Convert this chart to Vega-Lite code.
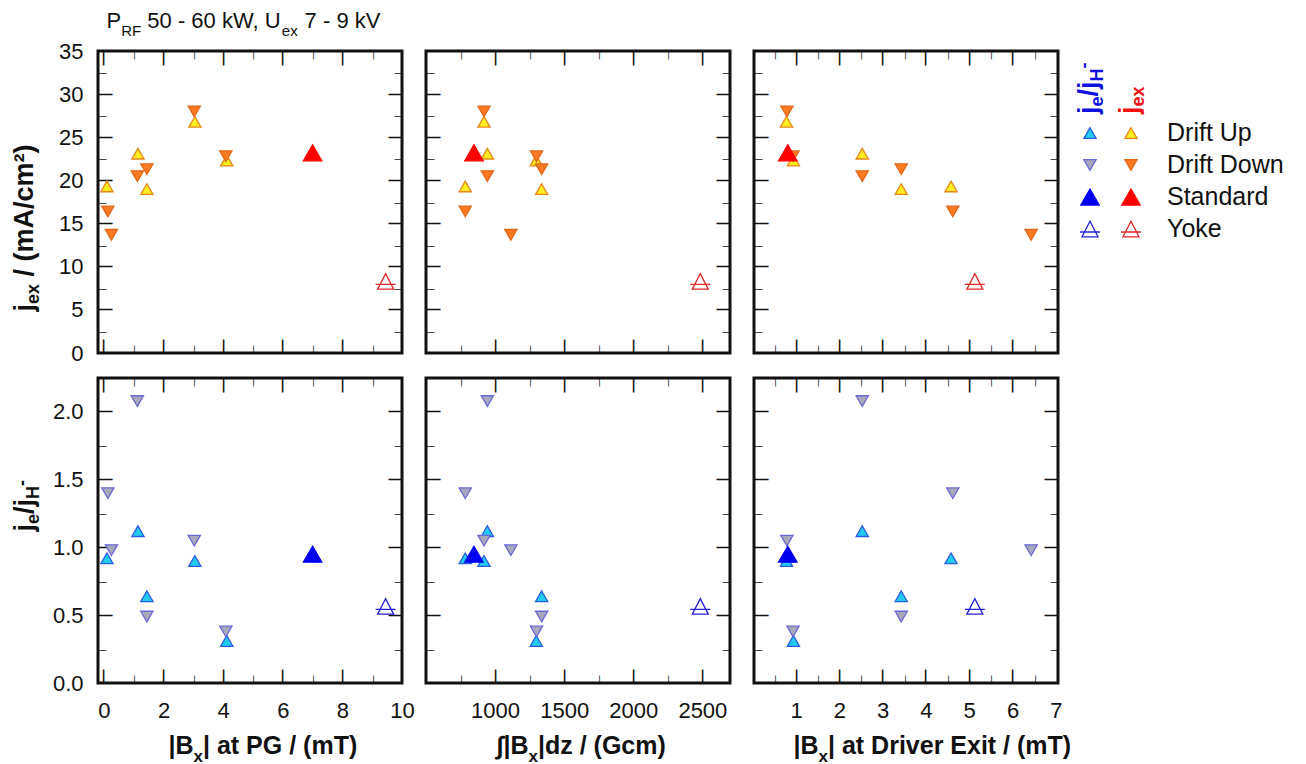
{
  "$schema": "https://vega.github.io/schema/vega-lite/v6.json",
  "padding": {"left": 8, "top": 8, "right": 0, "bottom": 0},
  "config": {
    "font": "Liberation Sans",
    "view": {"stroke": "#111111", "strokeWidth": 3},
    "axis": {
      "domain": false, "ticks": false, "grid": false, "zindex": 1,
      "labelColor": "#111111", "labelFontSize": 22, "labelFlush": false, "labelOverlap": false, "labelBound": false,
      "titleColor": "#111111", "titleFontSize": 25, "titleFontWeight": "bold"
    }
  },
  "data": {"values": [
    {"type": "Drift Up", "pg": 0.10, "gcm": 784, "exit": 4.58, "jex": 19.3, "ratio": 0.92},
    {"type": "Drift Up", "pg": 1.14, "gcm": 944, "exit": 2.53, "jex": 23.1, "ratio": 1.12},
    {"type": "Drift Up", "pg": 1.44, "gcm": 1337, "exit": 3.43, "jex": 19.0, "ratio": 0.64},
    {"type": "Drift Up", "pg": 3.05, "gcm": 920, "exit": 0.78, "jex": 26.8, "ratio": 0.90},
    {"type": "Drift Up", "pg": 4.12, "gcm": 1298, "exit": 0.94, "jex": 22.3, "ratio": 0.31},
    {"type": "Drift Down", "pg": 0.13, "gcm": 784, "exit": 4.62, "jex": 16.4, "ratio": 1.40},
    {"type": "Drift Down", "pg": 0.25, "gcm": 1114, "exit": 6.43, "jex": 13.7, "ratio": 0.98},
    {"type": "Drift Down", "pg": 1.12, "gcm": 944, "exit": 2.53, "jex": 20.5, "ratio": 2.08},
    {"type": "Drift Down", "pg": 1.44, "gcm": 1337, "exit": 3.43, "jex": 21.3, "ratio": 0.49},
    {"type": "Drift Down", "pg": 3.03, "gcm": 920, "exit": 0.79, "jex": 28.0, "ratio": 1.05},
    {"type": "Drift Down", "pg": 4.09, "gcm": 1300, "exit": 0.93, "jex": 22.8, "ratio": 0.38},
    {"type": "Standard", "pg": 7.0, "gcm": 847, "exit": 0.81, "jex": 23.2, "ratio": 0.95},
    {"type": "Yoke", "pg": 9.45, "gcm": 2485, "exit": 5.13, "jex": 8.3, "ratio": 0.565}
  ]},
  "columns": 4,
  "bounds": "flush",
  "spacing": {"row": 25, "column": 24},
  "resolve": {"scale": {"fill": "independent", "stroke": "independent", "shape": "independent", "size": "independent"}},
  "concat": [
    {
      "width": 304, "height": 302,
      "resolve": {"axis": {"x": "independent", "y": "independent"}},
      "layer": [
        {
          "mark": {"type": "point", "filled": true, "opacity": 1, "strokeWidth": 1.3},
          "encoding": {
            "x": {"field": "pg", "type": "quantitative", "scale": {"domain": [-0.2, 10], "nice": false, "zero": false},
                  "axis": {"orient": "bottom", "values": [0, 2, 4, 6, 8], "labelExpr": "'—'", "labelFontWeight": "bold", "labelFontSize": 14, "labelAngle": 270, "labelAlign": "left", "labelBaseline": "middle", "labelPadding": 0,
                           "title": "50 - 60 kW, U", "titleAngle": 0, "titleFontSize": 22, "titleFontWeight": "normal", "titleAlign": "left", "titleBaseline": "alphabetic", "titleX": 48.8, "titleY": -325.3}},
            "y": {"field": "jex", "type": "quantitative", "scale": {"domain": [0, 35], "nice": false, "zero": false},
                  "axis": {"orient": "left", "values": [5, 10, 15, 20, 25, 30], "labelExpr": "'—'", "labelFontWeight": "bold", "labelFontSize": 14, "labelAlign": "left", "labelBaseline": "middle", "labelPadding": 0, "title": null}},
            "shape": {"field": "type", "type": "nominal", "legend": null, "scale": {"domain": ["Drift Up", "Drift Down", "Standard", "Yoke"], "range": ["triangle-up", "triangle-down", "triangle-up", "M0,-0.78L0.8,0.78L-0.8,0.78Z M-1,0.3L1,0.3"]}},
            "fill": {"field": "type", "type": "nominal", "legend": null, "scale": {"domain": ["Drift Up", "Drift Down", "Standard", "Yoke"], "range": ["#FFEE22", "#FF7A22", "#FF0000", "transparent"]}},
            "stroke": {"field": "type", "type": "nominal", "legend": null, "scale": {"domain": ["Drift Up", "Drift Down", "Standard", "Yoke"], "range": ["#E8861A", "#E0661A", "#FF0000", "#E02828"]}},
            "size": {"field": "type", "type": "nominal", "legend": null, "scale": {"type": "ordinal", "domain": ["Drift Up", "Drift Down", "Standard", "Yoke"], "range": [150, 150, 340, 400]}}
          }
        },
        {
          "mark": {"type": "point", "opacity": 0},
          "encoding": {
            "x": {"field": "pg", "type": "quantitative", "scale": {"domain": [-0.2, 10], "nice": false, "zero": false},
                  "axis": {"orient": "bottom", "values": [1, 3, 5, 7, 9], "labelExpr": "'—'", "labelFontWeight": "bold", "labelFontSize": 8, "labelAngle": 270, "labelAlign": "left", "labelBaseline": "middle", "labelPadding": 0,
                           "title": "7 - 9 kV", "titleAngle": 0, "titleFontSize": 22, "titleFontWeight": "normal", "titleAlign": "left", "titleBaseline": "alphabetic", "titleX": 206.1, "titleY": -325.3}},
            "y": {"field": "jex", "type": "quantitative", "scale": {"domain": [0, 35], "nice": false, "zero": false},
                  "axis": {"orient": "left", "values": [2.5, 7.5, 12.5, 17.5, 22.5, 27.5, 32.5], "labelExpr": "'—'", "labelFontWeight": "bold", "labelFontSize": 8, "labelAlign": "left", "labelBaseline": "middle", "labelPadding": 0,
                           "title": "ex", "titleAngle": 270, "titleFontSize": 18, "titleAlign": "left", "titleBaseline": "alphabetic", "titleX": -60, "titleY": 252.5}}
          }
        },
        {
          "mark": {"type": "point", "opacity": 0},
          "encoding": {
            "x": {"field": "pg", "type": "quantitative", "scale": {"domain": [-0.2, 10], "nice": false, "zero": false},
                  "axis": {"orient": "top", "values": [0, 2, 4, 6, 8], "labelExpr": "'—'", "labelFontWeight": "bold", "labelFontSize": 14, "labelAngle": 270, "labelAlign": "right", "labelBaseline": "middle", "labelPadding": 0,
                           "title": "P", "titleAngle": 0, "titleFontSize": 22, "titleFontWeight": "normal", "titleAlign": "left", "titleBaseline": "alphabetic", "titleX": 8, "titleY": -23.3}},
            "y": {"field": "jex", "type": "quantitative", "scale": {"domain": [0, 35], "nice": false, "zero": false},
                  "axis": {"orient": "right", "values": [5, 10, 15, 20, 25, 30], "labelExpr": "'—'", "labelFontWeight": "bold", "labelFontSize": 14, "labelAlign": "right", "labelBaseline": "middle", "labelPadding": 0,
                           "title": "/ (mA/cm²)", "titleAngle": 270, "titleFontSize": 27, "titleAlign": "left", "titleBaseline": "alphabetic", "titleX": -370, "titleY": 225}}
          }
        },
        {
          "mark": {"type": "point", "opacity": 0},
          "encoding": {
            "x": {"field": "pg", "type": "quantitative", "scale": {"domain": [-0.2, 10], "nice": false, "zero": false},
                  "axis": {"orient": "top", "values": [1, 3, 5, 7, 9], "labelExpr": "'—'", "labelFontWeight": "bold", "labelFontSize": 8, "labelAngle": 270, "labelAlign": "right", "labelBaseline": "middle", "labelPadding": 0,
                           "title": "RF", "titleAngle": 0, "titleFontSize": 15, "titleFontWeight": "normal", "titleAlign": "left", "titleBaseline": "alphabetic", "titleX": 22.7, "titleY": -16}},
            "y": {"field": "jex", "type": "quantitative", "scale": {"domain": [0, 35], "nice": false, "zero": false},
                  "axis": {"orient": "right", "values": [2.5, 7.5, 12.5, 17.5, 22.5, 27.5, 32.5], "labelExpr": "'—'", "labelFontWeight": "bold", "labelFontSize": 8, "labelAlign": "right", "labelBaseline": "middle", "labelPadding": 0,
                           "title": "ex", "titleAngle": 0, "titleFontSize": 15, "titleFontWeight": "normal", "titleAlign": "left", "titleBaseline": "alphabetic", "titleX": -120.7, "titleY": -16}}
          }
        },
        {
          "mark": {"type": "point", "opacity": 0},
          "encoding": {
            "y": {"field": "jex", "type": "quantitative", "scale": {"domain": [0, 35], "nice": false, "zero": false},
                  "axis": {"orient": "left", "values": [0, 5, 10, 15, 20, 25, 30, 35], "labelPadding": 15, "format": "d",
                           "title": "j", "titleAngle": 270, "titleFontSize": 27, "titleAlign": "right", "titleBaseline": "alphabetic", "titleX": -66, "titleY": 252.5}}
          }
        }
      ]
    },
    {
      "width": 304, "height": 302,
      "resolve": {"axis": {"x": "independent", "y": "independent"}},
      "layer": [
        {
          "mark": {"type": "point", "filled": true, "opacity": 1, "strokeWidth": 1.3},
          "encoding": {
            "x": {"field": "gcm", "type": "quantitative", "scale": {"domain": [500, 2700], "nice": false, "zero": false},
                  "axis": {"orient": "bottom", "values": [1000, 1500, 2000, 2500], "labelExpr": "'—'", "labelFontWeight": "bold", "labelFontSize": 14, "labelAngle": 270, "labelAlign": "left", "labelBaseline": "middle", "labelPadding": 0, "title": null}},
            "y": {"field": "jex", "type": "quantitative", "scale": {"domain": [0, 35], "nice": false, "zero": false},
                  "axis": {"orient": "left", "values": [5, 10, 15, 20, 25, 30], "labelExpr": "'—'", "labelFontWeight": "bold", "labelFontSize": 14, "labelAlign": "left", "labelBaseline": "middle", "labelPadding": 0, "title": null}},
            "shape": {"field": "type", "type": "nominal", "legend": null, "scale": {"domain": ["Drift Up", "Drift Down", "Standard", "Yoke"], "range": ["triangle-up", "triangle-down", "triangle-up", "M0,-0.78L0.8,0.78L-0.8,0.78Z M-1,0.3L1,0.3"]}},
            "fill": {"field": "type", "type": "nominal", "legend": null, "scale": {"domain": ["Drift Up", "Drift Down", "Standard", "Yoke"], "range": ["#FFEE22", "#FF7A22", "#FF0000", "transparent"]}},
            "stroke": {"field": "type", "type": "nominal", "legend": null, "scale": {"domain": ["Drift Up", "Drift Down", "Standard", "Yoke"], "range": ["#E8861A", "#E0661A", "#FF0000", "#E02828"]}},
            "size": {"field": "type", "type": "nominal", "legend": null, "scale": {"type": "ordinal", "domain": ["Drift Up", "Drift Down", "Standard", "Yoke"], "range": [150, 150, 340, 400]}}
          }
        },
        {
          "mark": {"type": "point", "opacity": 0},
          "encoding": {
            "x": {"field": "gcm", "type": "quantitative", "scale": {"domain": [500, 2700], "nice": false, "zero": false},
                  "axis": {"orient": "bottom", "values": [750, 1250, 1750, 2250], "labelExpr": "'—'", "labelFontWeight": "bold", "labelFontSize": 8, "labelAngle": 270, "labelAlign": "left", "labelBaseline": "middle", "labelPadding": 0, "title": null}},
            "y": {"field": "jex", "type": "quantitative", "scale": {"domain": [0, 35], "nice": false, "zero": false},
                  "axis": {"orient": "left", "values": [2.5, 7.5, 12.5, 17.5, 22.5, 27.5, 32.5], "labelExpr": "'—'", "labelFontWeight": "bold", "labelFontSize": 8, "labelAlign": "left", "labelBaseline": "middle", "labelPadding": 0, "title": null}}
          }
        },
        {
          "mark": {"type": "point", "opacity": 0},
          "encoding": {
            "x": {"field": "gcm", "type": "quantitative", "scale": {"domain": [500, 2700], "nice": false, "zero": false},
                  "axis": {"orient": "top", "values": [1000, 1500, 2000, 2500], "labelExpr": "'—'", "labelFontWeight": "bold", "labelFontSize": 14, "labelAngle": 270, "labelAlign": "right", "labelBaseline": "middle", "labelPadding": 0, "title": null}},
            "y": {"field": "jex", "type": "quantitative", "scale": {"domain": [0, 35], "nice": false, "zero": false},
                  "axis": {"orient": "right", "values": [5, 10, 15, 20, 25, 30], "labelExpr": "'—'", "labelFontWeight": "bold", "labelFontSize": 14, "labelAlign": "right", "labelBaseline": "middle", "labelPadding": 0, "title": null}}
          }
        },
        {
          "mark": {"type": "point", "opacity": 0},
          "encoding": {
            "x": {"field": "gcm", "type": "quantitative", "scale": {"domain": [500, 2700], "nice": false, "zero": false},
                  "axis": {"orient": "top", "values": [750, 1250, 1750, 2250], "labelExpr": "'—'", "labelFontWeight": "bold", "labelFontSize": 8, "labelAngle": 270, "labelAlign": "right", "labelBaseline": "middle", "labelPadding": 0, "title": null}},
            "y": {"field": "jex", "type": "quantitative", "scale": {"domain": [0, 35], "nice": false, "zero": false},
                  "axis": {"orient": "right", "values": [2.5, 7.5, 12.5, 17.5, 22.5, 27.5, 32.5], "labelExpr": "'—'", "labelFontWeight": "bold", "labelFontSize": 8, "labelAlign": "right", "labelBaseline": "middle", "labelPadding": 0, "title": null}}
          }
        }
      ]
    },
    {
      "width": 304, "height": 302,
      "resolve": {"axis": {"x": "independent", "y": "independent"}},
      "layer": [
        {
          "mark": {"type": "point", "filled": true, "opacity": 1, "strokeWidth": 1.3},
          "encoding": {
            "x": {"field": "exit", "type": "quantitative", "scale": {"domain": [0.03, 7.05], "nice": false, "zero": false},
                  "axis": {"orient": "bottom", "values": [1, 2, 3, 4, 5, 6], "labelExpr": "'—'", "labelFontWeight": "bold", "labelFontSize": 14, "labelAngle": 270, "labelAlign": "left", "labelBaseline": "middle", "labelPadding": 0, "title": null}},
            "y": {"field": "jex", "type": "quantitative", "scale": {"domain": [0, 35], "nice": false, "zero": false},
                  "axis": {"orient": "left", "values": [5, 10, 15, 20, 25, 30], "labelExpr": "'—'", "labelFontWeight": "bold", "labelFontSize": 14, "labelAlign": "left", "labelBaseline": "middle", "labelPadding": 0, "title": null}},
            "shape": {"field": "type", "type": "nominal", "legend": null, "scale": {"domain": ["Drift Up", "Drift Down", "Standard", "Yoke"], "range": ["triangle-up", "triangle-down", "triangle-up", "M0,-0.78L0.8,0.78L-0.8,0.78Z M-1,0.3L1,0.3"]}},
            "fill": {"field": "type", "type": "nominal", "legend": null, "scale": {"domain": ["Drift Up", "Drift Down", "Standard", "Yoke"], "range": ["#FFEE22", "#FF7A22", "#FF0000", "transparent"]}},
            "stroke": {"field": "type", "type": "nominal", "legend": null, "scale": {"domain": ["Drift Up", "Drift Down", "Standard", "Yoke"], "range": ["#E8861A", "#E0661A", "#FF0000", "#E02828"]}},
            "size": {"field": "type", "type": "nominal", "legend": null, "scale": {"type": "ordinal", "domain": ["Drift Up", "Drift Down", "Standard", "Yoke"], "range": [150, 150, 340, 400]}}
          }
        },
        {
          "mark": {"type": "point", "opacity": 0},
          "encoding": {
            "x": {"field": "exit", "type": "quantitative", "scale": {"domain": [0.03, 7.05], "nice": false, "zero": false},
                  "axis": {"orient": "bottom", "values": [0.5, 1.5, 2.5, 3.5, 4.5, 5.5, 6.5], "labelExpr": "'—'", "labelFontWeight": "bold", "labelFontSize": 8, "labelAngle": 270, "labelAlign": "left", "labelBaseline": "middle", "labelPadding": 0, "title": null}},
            "y": {"field": "jex", "type": "quantitative", "scale": {"domain": [0, 35], "nice": false, "zero": false},
                  "axis": {"orient": "left", "values": [2.5, 7.5, 12.5, 17.5, 22.5, 27.5, 32.5], "labelExpr": "'—'", "labelFontWeight": "bold", "labelFontSize": 8, "labelAlign": "left", "labelBaseline": "middle", "labelPadding": 0, "title": null}}
          }
        },
        {
          "mark": {"type": "point", "opacity": 0},
          "encoding": {
            "x": {"field": "exit", "type": "quantitative", "scale": {"domain": [0.03, 7.05], "nice": false, "zero": false},
                  "axis": {"orient": "top", "values": [1, 2, 3, 4, 5, 6], "labelExpr": "'—'", "labelFontWeight": "bold", "labelFontSize": 14, "labelAngle": 270, "labelAlign": "right", "labelBaseline": "middle", "labelPadding": 0, "title": null}},
            "y": {"field": "jex", "type": "quantitative", "scale": {"domain": [0, 35], "nice": false, "zero": false},
                  "axis": {"orient": "right", "values": [5, 10, 15, 20, 25, 30], "labelExpr": "'—'", "labelFontWeight": "bold", "labelFontSize": 14, "labelAlign": "right", "labelBaseline": "middle", "labelPadding": 0, "title": null}}
          }
        },
        {
          "mark": {"type": "point", "opacity": 0},
          "encoding": {
            "x": {"field": "exit", "type": "quantitative", "scale": {"domain": [0.03, 7.05], "nice": false, "zero": false},
                  "axis": {"orient": "top", "values": [0.5, 1.5, 2.5, 3.5, 4.5, 5.5, 6.5], "labelExpr": "'—'", "labelFontWeight": "bold", "labelFontSize": 8, "labelAngle": 270, "labelAlign": "right", "labelBaseline": "middle", "labelPadding": 0, "title": null}},
            "y": {"field": "jex", "type": "quantitative", "scale": {"domain": [0, 35], "nice": false, "zero": false},
                  "axis": {"orient": "right", "values": [2.5, 7.5, 12.5, 17.5, 22.5, 27.5, 32.5], "labelExpr": "'—'", "labelFontWeight": "bold", "labelFontSize": 8, "labelAlign": "right", "labelBaseline": "middle", "labelPadding": 0, "title": null}}
          }
        }
      ]
    },
    {
      "width": 57, "height": 302,
      "view": {"stroke": null},
      "data": {"values": [{"type": "Drift Up"}, {"type": "Drift Down"}, {"type": "Standard"}, {"type": "Yoke"}]},
      "resolve": {"scale": {"fill": "independent", "stroke": "independent", "shape": "independent", "size": "independent"}},
      "layer": [
        {
          "mark": {"type": "point", "filled": true, "opacity": 1, "strokeWidth": 1.3},
          "encoding": {
            "x": {"datum": "ratio", "type": "nominal", "scale": {"domain": ["ratio", "jex"], "range": [8, 49], "padding": 0}, "axis": null},
            "y": {"field": "type", "type": "nominal", "scale": {"domain": ["Drift Up", "Drift Down", "Standard", "Yoke"], "range": [82, 178], "padding": 0}, "axis": null},
            "shape": {"field": "type", "type": "nominal", "legend": null, "scale": {"domain": ["Drift Up", "Drift Down", "Standard", "Yoke"], "range": ["triangle-up", "triangle-down", "triangle-up", "M0,-0.78L0.8,0.78L-0.8,0.78Z M-1,0.3L1,0.3"]}},
            "fill": {"field": "type", "type": "nominal", "legend": null, "scale": {"domain": ["Drift Up", "Drift Down", "Standard", "Yoke"], "range": ["#22CCF0", "#A8A8BA", "#0000F0", "transparent"]}},
            "stroke": {"field": "type", "type": "nominal", "legend": null, "scale": {"domain": ["Drift Up", "Drift Down", "Standard", "Yoke"], "range": ["#2A5CE0", "#6868D8", "#0000F0", "#2222D8"]}},
            "size": {"field": "type", "type": "nominal", "legend": null, "scale": {"type": "ordinal", "domain": ["Drift Up", "Drift Down", "Standard", "Yoke"], "range": [150, 150, 340, 400]}}
          }
        },
        {
          "mark": {"type": "point", "filled": true, "opacity": 1, "strokeWidth": 1.3},
          "encoding": {
            "x": {"datum": "jex", "type": "nominal"},
            "y": {"field": "type", "type": "nominal"},
            "shape": {"field": "type", "type": "nominal", "legend": null, "scale": {"domain": ["Drift Up", "Drift Down", "Standard", "Yoke"], "range": ["triangle-up", "triangle-down", "triangle-up", "M0,-0.78L0.8,0.78L-0.8,0.78Z M-1,0.3L1,0.3"]}},
            "fill": {"field": "type", "type": "nominal", "legend": null, "scale": {"domain": ["Drift Up", "Drift Down", "Standard", "Yoke"], "range": ["#FFEE22", "#FF7A22", "#FF0000", "transparent"]}},
            "stroke": {"field": "type", "type": "nominal", "legend": null, "scale": {"domain": ["Drift Up", "Drift Down", "Standard", "Yoke"], "range": ["#E8861A", "#E0661A", "#FF0000", "#E02828"]}},
            "size": {"field": "type", "type": "nominal", "legend": null, "scale": {"type": "ordinal", "domain": ["Drift Up", "Drift Down", "Standard", "Yoke"], "range": [150, 150, 340, 400]}}
          }
        },
        {
          "mark": {"type": "text", "align": "left", "baseline": "middle", "dx": 36, "fontSize": 25, "fill": "#111111"},
          "encoding": {
            "x": {"datum": "jex", "type": "nominal"},
            "y": {"field": "type", "type": "nominal"},
            "text": {"field": "type"}
          }
        },
        {
          "data": {"values": [{"k": 1}]},
          "mark": {"type": "text", "text": "j", "angle": 270, "align": "left", "baseline": "alphabetic", "fontSize": 27, "fontWeight": "bold", "fill": "#1010E0", "dx": 19, "dy": 7},
          "encoding": {"x": {"datum": "ratio", "type": "nominal"}, "y": {"datum": "Drift Up", "type": "nominal"}}
        },
        {
          "data": {"values": [{"k": 1}]},
          "mark": {"type": "text", "text": "e", "angle": 270, "align": "left", "baseline": "alphabetic", "fontSize": 18, "fontWeight": "bold", "fill": "#1010E0", "dx": 26.5, "dy": 13},
          "encoding": {"x": {"datum": "ratio", "type": "nominal"}, "y": {"datum": "Drift Up", "type": "nominal"}}
        },
        {
          "data": {"values": [{"k": 1}]},
          "mark": {"type": "text", "text": "/j", "angle": 270, "align": "left", "baseline": "alphabetic", "fontSize": 27, "fontWeight": "bold", "fill": "#1010E0", "dx": 36.5, "dy": 7},
          "encoding": {"x": {"datum": "ratio", "type": "nominal"}, "y": {"datum": "Drift Up", "type": "nominal"}}
        },
        {
          "data": {"values": [{"k": 1}]},
          "mark": {"type": "text", "text": "H", "angle": 270, "align": "left", "baseline": "alphabetic", "fontSize": 18, "fontWeight": "bold", "fill": "#1010E0", "dx": 51.5, "dy": 13},
          "encoding": {"x": {"datum": "ratio", "type": "nominal"}, "y": {"datum": "Drift Up", "type": "nominal"}}
        },
        {
          "data": {"values": [{"k": 1}]},
          "mark": {"type": "text", "text": "-", "angle": 270, "align": "left", "baseline": "alphabetic", "fontSize": 18, "fontWeight": "bold", "fill": "#1010E0", "dx": 64.5, "dy": 0},
          "encoding": {"x": {"datum": "ratio", "type": "nominal"}, "y": {"datum": "Drift Up", "type": "nominal"}}
        },
        {
          "data": {"values": [{"k": 1}]},
          "mark": {"type": "text", "text": "j", "angle": 270, "align": "left", "baseline": "alphabetic", "fontSize": 27, "fontWeight": "bold", "fill": "#F01010", "dx": 19, "dy": 7},
          "encoding": {"x": {"datum": "jex", "type": "nominal"}, "y": {"datum": "Drift Up", "type": "nominal"}}
        },
        {
          "data": {"values": [{"k": 1}]},
          "mark": {"type": "text", "text": "ex", "angle": 270, "align": "left", "baseline": "alphabetic", "fontSize": 18, "fontWeight": "bold", "fill": "#F01010", "dx": 26.5, "dy": 13},
          "encoding": {"x": {"datum": "jex", "type": "nominal"}, "y": {"datum": "Drift Up", "type": "nominal"}}
        }
      ]
    },
    {
      "width": 304, "height": 305,
      "resolve": {"axis": {"x": "independent", "y": "independent"}},
      "layer": [
        {
          "mark": {"type": "point", "filled": true, "opacity": 1, "strokeWidth": 1.3},
          "encoding": {
            "x": {"field": "pg", "type": "quantitative", "scale": {"domain": [-0.2, 10], "nice": false, "zero": false},
                  "axis": {"orient": "bottom", "values": [0, 2, 4, 6, 8], "labelExpr": "'—'", "labelFontWeight": "bold", "labelFontSize": 14, "labelAngle": 270, "labelAlign": "left", "labelBaseline": "middle", "labelPadding": 0, "title": null}},
            "y": {"field": "ratio", "type": "quantitative", "scale": {"domain": [0, 2.25], "nice": false, "zero": false},
                  "axis": {"orient": "left", "values": [0.5, 1, 1.5, 2], "labelExpr": "'—'", "labelFontWeight": "bold", "labelFontSize": 14, "labelAlign": "left", "labelBaseline": "middle", "labelPadding": 0, "title": null}},
            "shape": {"field": "type", "type": "nominal", "legend": null, "scale": {"domain": ["Drift Up", "Drift Down", "Standard", "Yoke"], "range": ["triangle-up", "triangle-down", "triangle-up", "M0,-0.78L0.8,0.78L-0.8,0.78Z M-1,0.3L1,0.3"]}},
            "fill": {"field": "type", "type": "nominal", "legend": null, "scale": {"domain": ["Drift Up", "Drift Down", "Standard", "Yoke"], "range": ["#22CCF0", "#A8A8BA", "#0000F0", "transparent"]}},
            "stroke": {"field": "type", "type": "nominal", "legend": null, "scale": {"domain": ["Drift Up", "Drift Down", "Standard", "Yoke"], "range": ["#2A5CE0", "#6868D8", "#0000F0", "#2222D8"]}},
            "size": {"field": "type", "type": "nominal", "legend": null, "scale": {"type": "ordinal", "domain": ["Drift Up", "Drift Down", "Standard", "Yoke"], "range": [150, 150, 340, 400]}}
          }
        },
        {
          "mark": {"type": "point", "opacity": 0},
          "encoding": {
            "x": {"field": "pg", "type": "quantitative", "scale": {"domain": [-0.2, 10], "nice": false, "zero": false},
                  "axis": {"orient": "bottom", "values": [1, 3, 5, 7, 9], "labelExpr": "'—'", "labelFontWeight": "bold", "labelFontSize": 8, "labelAngle": 270, "labelAlign": "left", "labelBaseline": "middle", "labelPadding": 0,
                           "title": "x", "titleAngle": 0, "titleFontSize": 17, "titleAlign": "left", "titleBaseline": "alphabetic", "titleX": 95, "titleY": 78}},
            "y": {"field": "ratio", "type": "quantitative", "scale": {"domain": [0, 2.25], "nice": false, "zero": false},
                  "axis": {"orient": "left", "values": [0.25, 0.75, 1.25, 1.75], "labelExpr": "'—'", "labelFontWeight": "bold", "labelFontSize": 8, "labelAlign": "left", "labelBaseline": "middle", "labelPadding": 0,
                           "title": "e", "titleAngle": 270, "titleFontSize": 18, "titleAlign": "left", "titleBaseline": "alphabetic", "titleX": -60, "titleY": 145.5}}
          }
        },
        {
          "mark": {"type": "point", "opacity": 0},
          "encoding": {
            "x": {"field": "pg", "type": "quantitative", "scale": {"domain": [-0.2, 10], "nice": false, "zero": false},
                  "axis": {"orient": "top", "values": [0, 2, 4, 6, 8], "labelExpr": "'—'", "labelFontWeight": "bold", "labelFontSize": 14, "labelAngle": 270, "labelAlign": "right", "labelBaseline": "middle", "labelPadding": 0,
                           "title": "| at PG / (mT)", "titleAngle": 0, "titleAlign": "left", "titleBaseline": "alphabetic", "titleX": 104.5, "titleY": 375}},
            "y": {"field": "ratio", "type": "quantitative", "scale": {"domain": [0, 2.25], "nice": false, "zero": false},
                  "axis": {"orient": "right", "values": [0.5, 1, 1.5, 2], "labelExpr": "'—'", "labelFontWeight": "bold", "labelFontSize": 14, "labelAlign": "right", "labelBaseline": "middle", "labelPadding": 0,
                           "title": "/j", "titleAngle": 270, "titleFontSize": 27, "titleAlign": "left", "titleBaseline": "alphabetic", "titleX": -370, "titleY": 135.5}}
          }
        },
        {
          "mark": {"type": "point", "opacity": 0},
          "encoding": {
            "x": {"field": "pg", "type": "quantitative", "scale": {"domain": [-0.2, 10], "nice": false, "zero": false},
                  "axis": {"orient": "top", "values": [1, 3, 5, 7, 9], "labelExpr": "'—'", "labelFontWeight": "bold", "labelFontSize": 8, "labelAngle": 270, "labelAlign": "right", "labelBaseline": "middle", "labelPadding": 0,
                           "title": "-", "titleAngle": 270, "titleFontSize": 18, "titleAlign": "left", "titleBaseline": "alphabetic", "titleX": -71, "titleY": 107.5}},
            "y": {"field": "ratio", "type": "quantitative", "scale": {"domain": [0, 2.25], "nice": false, "zero": false},
                  "axis": {"orient": "right", "values": [0.25, 0.75, 1.25, 1.75], "labelExpr": "'—'", "labelFontWeight": "bold", "labelFontSize": 8, "labelAlign": "right", "labelBaseline": "middle", "labelPadding": 0,
                           "title": "H", "titleAngle": 270, "titleFontSize": 18, "titleAlign": "left", "titleBaseline": "alphabetic", "titleX": -364, "titleY": 120.5}}
          }
        },
        {
          "mark": {"type": "point", "opacity": 0},
          "encoding": {
            "x": {"field": "pg", "type": "quantitative", "scale": {"domain": [-0.2, 10], "nice": false, "zero": false},
                  "axis": {"orient": "bottom", "values": [0, 2, 4, 6, 8, 10], "labelPadding": 17, "format": "d",
                           "title": "|B", "titleAngle": 0, "titleAlign": "right", "titleBaseline": "alphabetic", "titleX": 95, "titleY": 70}},
            "y": {"field": "ratio", "type": "quantitative", "scale": {"domain": [0, 2.25], "nice": false, "zero": false},
                  "axis": {"orient": "left", "values": [0, 0.5, 1, 1.5, 2], "labelPadding": 15, "format": ".1f",
                           "title": "j", "titleAngle": 270, "titleFontSize": 27, "titleAlign": "right", "titleBaseline": "alphabetic", "titleX": -66, "titleY": 145.5}}
          }
        }
      ]
    },
    {
      "width": 304, "height": 305,
      "resolve": {"axis": {"x": "independent", "y": "independent"}},
      "layer": [
        {
          "mark": {"type": "point", "filled": true, "opacity": 1, "strokeWidth": 1.3},
          "encoding": {
            "x": {"field": "gcm", "type": "quantitative", "scale": {"domain": [500, 2700], "nice": false, "zero": false},
                  "axis": {"orient": "bottom", "values": [1000, 1500, 2000, 2500], "labelExpr": "'—'", "labelFontWeight": "bold", "labelFontSize": 14, "labelAngle": 270, "labelAlign": "left", "labelBaseline": "middle", "labelPadding": 0, "title": null}},
            "y": {"field": "ratio", "type": "quantitative", "scale": {"domain": [0, 2.25], "nice": false, "zero": false},
                  "axis": {"orient": "left", "values": [0.5, 1, 1.5, 2], "labelExpr": "'—'", "labelFontWeight": "bold", "labelFontSize": 14, "labelAlign": "left", "labelBaseline": "middle", "labelPadding": 0, "title": null}},
            "shape": {"field": "type", "type": "nominal", "legend": null, "scale": {"domain": ["Drift Up", "Drift Down", "Standard", "Yoke"], "range": ["triangle-up", "triangle-down", "triangle-up", "M0,-0.78L0.8,0.78L-0.8,0.78Z M-1,0.3L1,0.3"]}},
            "fill": {"field": "type", "type": "nominal", "legend": null, "scale": {"domain": ["Drift Up", "Drift Down", "Standard", "Yoke"], "range": ["#22CCF0", "#A8A8BA", "#0000F0", "transparent"]}},
            "stroke": {"field": "type", "type": "nominal", "legend": null, "scale": {"domain": ["Drift Up", "Drift Down", "Standard", "Yoke"], "range": ["#2A5CE0", "#6868D8", "#0000F0", "#2222D8"]}},
            "size": {"field": "type", "type": "nominal", "legend": null, "scale": {"type": "ordinal", "domain": ["Drift Up", "Drift Down", "Standard", "Yoke"], "range": [150, 150, 340, 400]}}
          }
        },
        {
          "mark": {"type": "point", "opacity": 0},
          "encoding": {
            "x": {"field": "gcm", "type": "quantitative", "scale": {"domain": [500, 2700], "nice": false, "zero": false},
                  "axis": {"orient": "bottom", "values": [750, 1250, 1750, 2250], "labelExpr": "'—'", "labelFontWeight": "bold", "labelFontSize": 8, "labelAngle": 270, "labelAlign": "left", "labelBaseline": "middle", "labelPadding": 0,
                           "title": "x", "titleAngle": 0, "titleFontSize": 17, "titleAlign": "left", "titleBaseline": "alphabetic", "titleX": 102, "titleY": 78}},
            "y": {"field": "ratio", "type": "quantitative", "scale": {"domain": [0, 2.25], "nice": false, "zero": false},
                  "axis": {"orient": "left", "values": [0.25, 0.75, 1.25, 1.75], "labelExpr": "'—'", "labelFontWeight": "bold", "labelFontSize": 8, "labelAlign": "left", "labelBaseline": "middle", "labelPadding": 0, "title": null}}
          }
        },
        {
          "mark": {"type": "point", "opacity": 0},
          "encoding": {
            "x": {"field": "gcm", "type": "quantitative", "scale": {"domain": [500, 2700], "nice": false, "zero": false},
                  "axis": {"orient": "top", "values": [1000, 1500, 2000, 2500], "labelExpr": "'—'", "labelFontWeight": "bold", "labelFontSize": 14, "labelAngle": 270, "labelAlign": "right", "labelBaseline": "middle", "labelPadding": 0,
                           "title": "|dz / (Gcm)", "titleAngle": 0, "titleAlign": "left", "titleBaseline": "alphabetic", "titleX": 111.5, "titleY": 375}},
            "y": {"field": "ratio", "type": "quantitative", "scale": {"domain": [0, 2.25], "nice": false, "zero": false},
                  "axis": {"orient": "right", "values": [0.5, 1, 1.5, 2], "labelExpr": "'—'", "labelFontWeight": "bold", "labelFontSize": 14, "labelAlign": "right", "labelBaseline": "middle", "labelPadding": 0, "title": null}}
          }
        },
        {
          "mark": {"type": "point", "opacity": 0},
          "encoding": {
            "x": {"field": "gcm", "type": "quantitative", "scale": {"domain": [500, 2700], "nice": false, "zero": false},
                  "axis": {"orient": "top", "values": [750, 1250, 1750, 2250], "labelExpr": "'—'", "labelFontWeight": "bold", "labelFontSize": 8, "labelAngle": 270, "labelAlign": "right", "labelBaseline": "middle", "labelPadding": 0, "title": null}},
            "y": {"field": "ratio", "type": "quantitative", "scale": {"domain": [0, 2.25], "nice": false, "zero": false},
                  "axis": {"orient": "right", "values": [0.25, 0.75, 1.25, 1.75], "labelExpr": "'—'", "labelFontWeight": "bold", "labelFontSize": 8, "labelAlign": "right", "labelBaseline": "middle", "labelPadding": 0, "title": null}}
          }
        },
        {
          "mark": {"type": "point", "opacity": 0},
          "encoding": {
            "x": {"field": "gcm", "type": "quantitative", "scale": {"domain": [500, 2700], "nice": false, "zero": false},
                  "axis": {"orient": "bottom", "values": [1000, 1500, 2000, 2500], "labelPadding": 17, "format": "d",
                           "title": "∫|B", "titleAngle": 0, "titleAlign": "right", "titleBaseline": "alphabetic", "titleX": 102, "titleY": 70}}
          }
        }
      ]
    },
    {
      "width": 304, "height": 305,
      "resolve": {"axis": {"x": "independent", "y": "independent"}},
      "layer": [
        {
          "mark": {"type": "point", "filled": true, "opacity": 1, "strokeWidth": 1.3},
          "encoding": {
            "x": {"field": "exit", "type": "quantitative", "scale": {"domain": [0.03, 7.05], "nice": false, "zero": false},
                  "axis": {"orient": "bottom", "values": [1, 2, 3, 4, 5, 6], "labelExpr": "'—'", "labelFontWeight": "bold", "labelFontSize": 14, "labelAngle": 270, "labelAlign": "left", "labelBaseline": "middle", "labelPadding": 0, "title": null}},
            "y": {"field": "ratio", "type": "quantitative", "scale": {"domain": [0, 2.25], "nice": false, "zero": false},
                  "axis": {"orient": "left", "values": [0.5, 1, 1.5, 2], "labelExpr": "'—'", "labelFontWeight": "bold", "labelFontSize": 14, "labelAlign": "left", "labelBaseline": "middle", "labelPadding": 0, "title": null}},
            "shape": {"field": "type", "type": "nominal", "legend": null, "scale": {"domain": ["Drift Up", "Drift Down", "Standard", "Yoke"], "range": ["triangle-up", "triangle-down", "triangle-up", "M0,-0.78L0.8,0.78L-0.8,0.78Z M-1,0.3L1,0.3"]}},
            "fill": {"field": "type", "type": "nominal", "legend": null, "scale": {"domain": ["Drift Up", "Drift Down", "Standard", "Yoke"], "range": ["#22CCF0", "#A8A8BA", "#0000F0", "transparent"]}},
            "stroke": {"field": "type", "type": "nominal", "legend": null, "scale": {"domain": ["Drift Up", "Drift Down", "Standard", "Yoke"], "range": ["#2A5CE0", "#6868D8", "#0000F0", "#2222D8"]}},
            "size": {"field": "type", "type": "nominal", "legend": null, "scale": {"type": "ordinal", "domain": ["Drift Up", "Drift Down", "Standard", "Yoke"], "range": [150, 150, 340, 400]}}
          }
        },
        {
          "mark": {"type": "point", "opacity": 0},
          "encoding": {
            "x": {"field": "exit", "type": "quantitative", "scale": {"domain": [0.03, 7.05], "nice": false, "zero": false},
                  "axis": {"orient": "bottom", "values": [0.5, 1.5, 2.5, 3.5, 4.5, 5.5, 6.5], "labelExpr": "'—'", "labelFontWeight": "bold", "labelFontSize": 8, "labelAngle": 270, "labelAlign": "left", "labelBaseline": "middle", "labelPadding": 0,
                           "title": "x", "titleAngle": 0, "titleFontSize": 17, "titleAlign": "left", "titleBaseline": "alphabetic", "titleX": 64, "titleY": 78}},
            "y": {"field": "ratio", "type": "quantitative", "scale": {"domain": [0, 2.25], "nice": false, "zero": false},
                  "axis": {"orient": "left", "values": [0.25, 0.75, 1.25, 1.75], "labelExpr": "'—'", "labelFontWeight": "bold", "labelFontSize": 8, "labelAlign": "left", "labelBaseline": "middle", "labelPadding": 0, "title": null}}
          }
        },
        {
          "mark": {"type": "point", "opacity": 0},
          "encoding": {
            "x": {"field": "exit", "type": "quantitative", "scale": {"domain": [0.03, 7.05], "nice": false, "zero": false},
                  "axis": {"orient": "top", "values": [1, 2, 3, 4, 5, 6], "labelExpr": "'—'", "labelFontWeight": "bold", "labelFontSize": 14, "labelAngle": 270, "labelAlign": "right", "labelBaseline": "middle", "labelPadding": 0,
                           "title": "| at Driver Exit / (mT)", "titleAngle": 0, "titleAlign": "left", "titleBaseline": "alphabetic", "titleX": 73.5, "titleY": 375}},
            "y": {"field": "ratio", "type": "quantitative", "scale": {"domain": [0, 2.25], "nice": false, "zero": false},
                  "axis": {"orient": "right", "values": [0.5, 1, 1.5, 2], "labelExpr": "'—'", "labelFontWeight": "bold", "labelFontSize": 14, "labelAlign": "right", "labelBaseline": "middle", "labelPadding": 0, "title": null}}
          }
        },
        {
          "mark": {"type": "point", "opacity": 0},
          "encoding": {
            "x": {"field": "exit", "type": "quantitative", "scale": {"domain": [0.03, 7.05], "nice": false, "zero": false},
                  "axis": {"orient": "top", "values": [0.5, 1.5, 2.5, 3.5, 4.5, 5.5, 6.5], "labelExpr": "'—'", "labelFontWeight": "bold", "labelFontSize": 8, "labelAngle": 270, "labelAlign": "right", "labelBaseline": "middle", "labelPadding": 0, "title": null}},
            "y": {"field": "ratio", "type": "quantitative", "scale": {"domain": [0, 2.25], "nice": false, "zero": false},
                  "axis": {"orient": "right", "values": [0.25, 0.75, 1.25, 1.75], "labelExpr": "'—'", "labelFontWeight": "bold", "labelFontSize": 8, "labelAlign": "right", "labelBaseline": "middle", "labelPadding": 0, "title": null}}
          }
        },
        {
          "mark": {"type": "point", "opacity": 0},
          "encoding": {
            "x": {"field": "exit", "type": "quantitative", "scale": {"domain": [0.03, 7.05], "nice": false, "zero": false},
                  "axis": {"orient": "bottom", "values": [1, 2, 3, 4, 5, 6, 7], "labelPadding": 17, "format": "d",
                           "title": "|B", "titleAngle": 0, "titleAlign": "right", "titleBaseline": "alphabetic", "titleX": 64, "titleY": 70}}
          }
        }
      ]
    }
  ]
}
